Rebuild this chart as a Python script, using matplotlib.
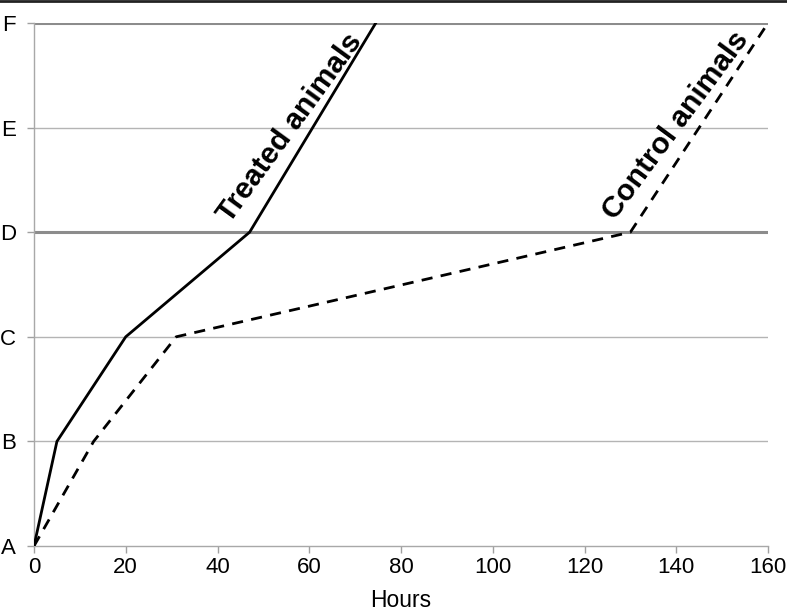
import matplotlib
matplotlib.use("Agg")
import matplotlib.pyplot as plt
from matplotlib.lines import Line2D

plt.rcParams['font.family'] = ['Liberation Sans', 'DejaVu Sans']

stage_labels = ['A', 'B', 'C', 'D', 'E', 'F']
stages = [0, 1, 2, 3, 5]
treated_hours = [0, 5, 20, 47, 74.5]
control_hours = [0, 13, 31, 130, 160]
x_ticks = [0, 20, 40, 60, 80, 100, 120, 140, 160]

fig = plt.figure(figsize=(7.87, 6.15), dpi=100)
ax = fig.add_axes([34/787, 1-546/615, (768-34)/787, (546-23)/615])

for i in range(6):
    if i in (3, 5):
        ax.axhline(i, color='#8c8c8c', lw=2.2, zorder=1)
    elif i > 0:
        ax.axhline(i, color='#b4b4b4', lw=1.0, zorder=1)

ax.plot(treated_hours, stages, color='black', lw=2.0, zorder=3)
ax.plot(control_hours, stages, color='black', lw=2.0, ls=(0, (4, 3)), zorder=3)

ax.set_xlim(0, 160)
ax.set_ylim(0, 5)
ax.set_xticks(x_ticks)
ax.set_yticks(range(6))
ax.set_yticklabels(stage_labels)
ax.tick_params(axis='both', labelsize=16, color='#a0a0a0', length=5, width=1)
ax.tick_params(axis='y', pad=8)
ax.tick_params(axis='x', pad=3)
for s in ['top', 'right']:
    ax.spines[s].set_visible(False)
for s in ['left', 'bottom']:
    ax.spines[s].set_color('#a8a8a8')
    ax.spines[s].set_linewidth(1.0)
ax.set_xlabel('Hours', fontsize=16.5, labelpad=8)

ax.text(55.8, 4.0, 'Treated animals', rotation=54, rotation_mode='anchor',
        ha='center', va='center', fontsize=21.5, fontweight='bold',
        transform=ax.transData)
ax.text(140, 4.02, 'Control animals', rotation=53.5, rotation_mode='anchor',
        ha='center', va='center', fontsize=21.5, fontweight='bold',
        transform=ax.transData)

fig.add_artist(Line2D([0, 1], [0.998, 0.998], color='#222222', lw=2,
                      transform=fig.transFigure))

fig.savefig('out.png', dpi=100)
